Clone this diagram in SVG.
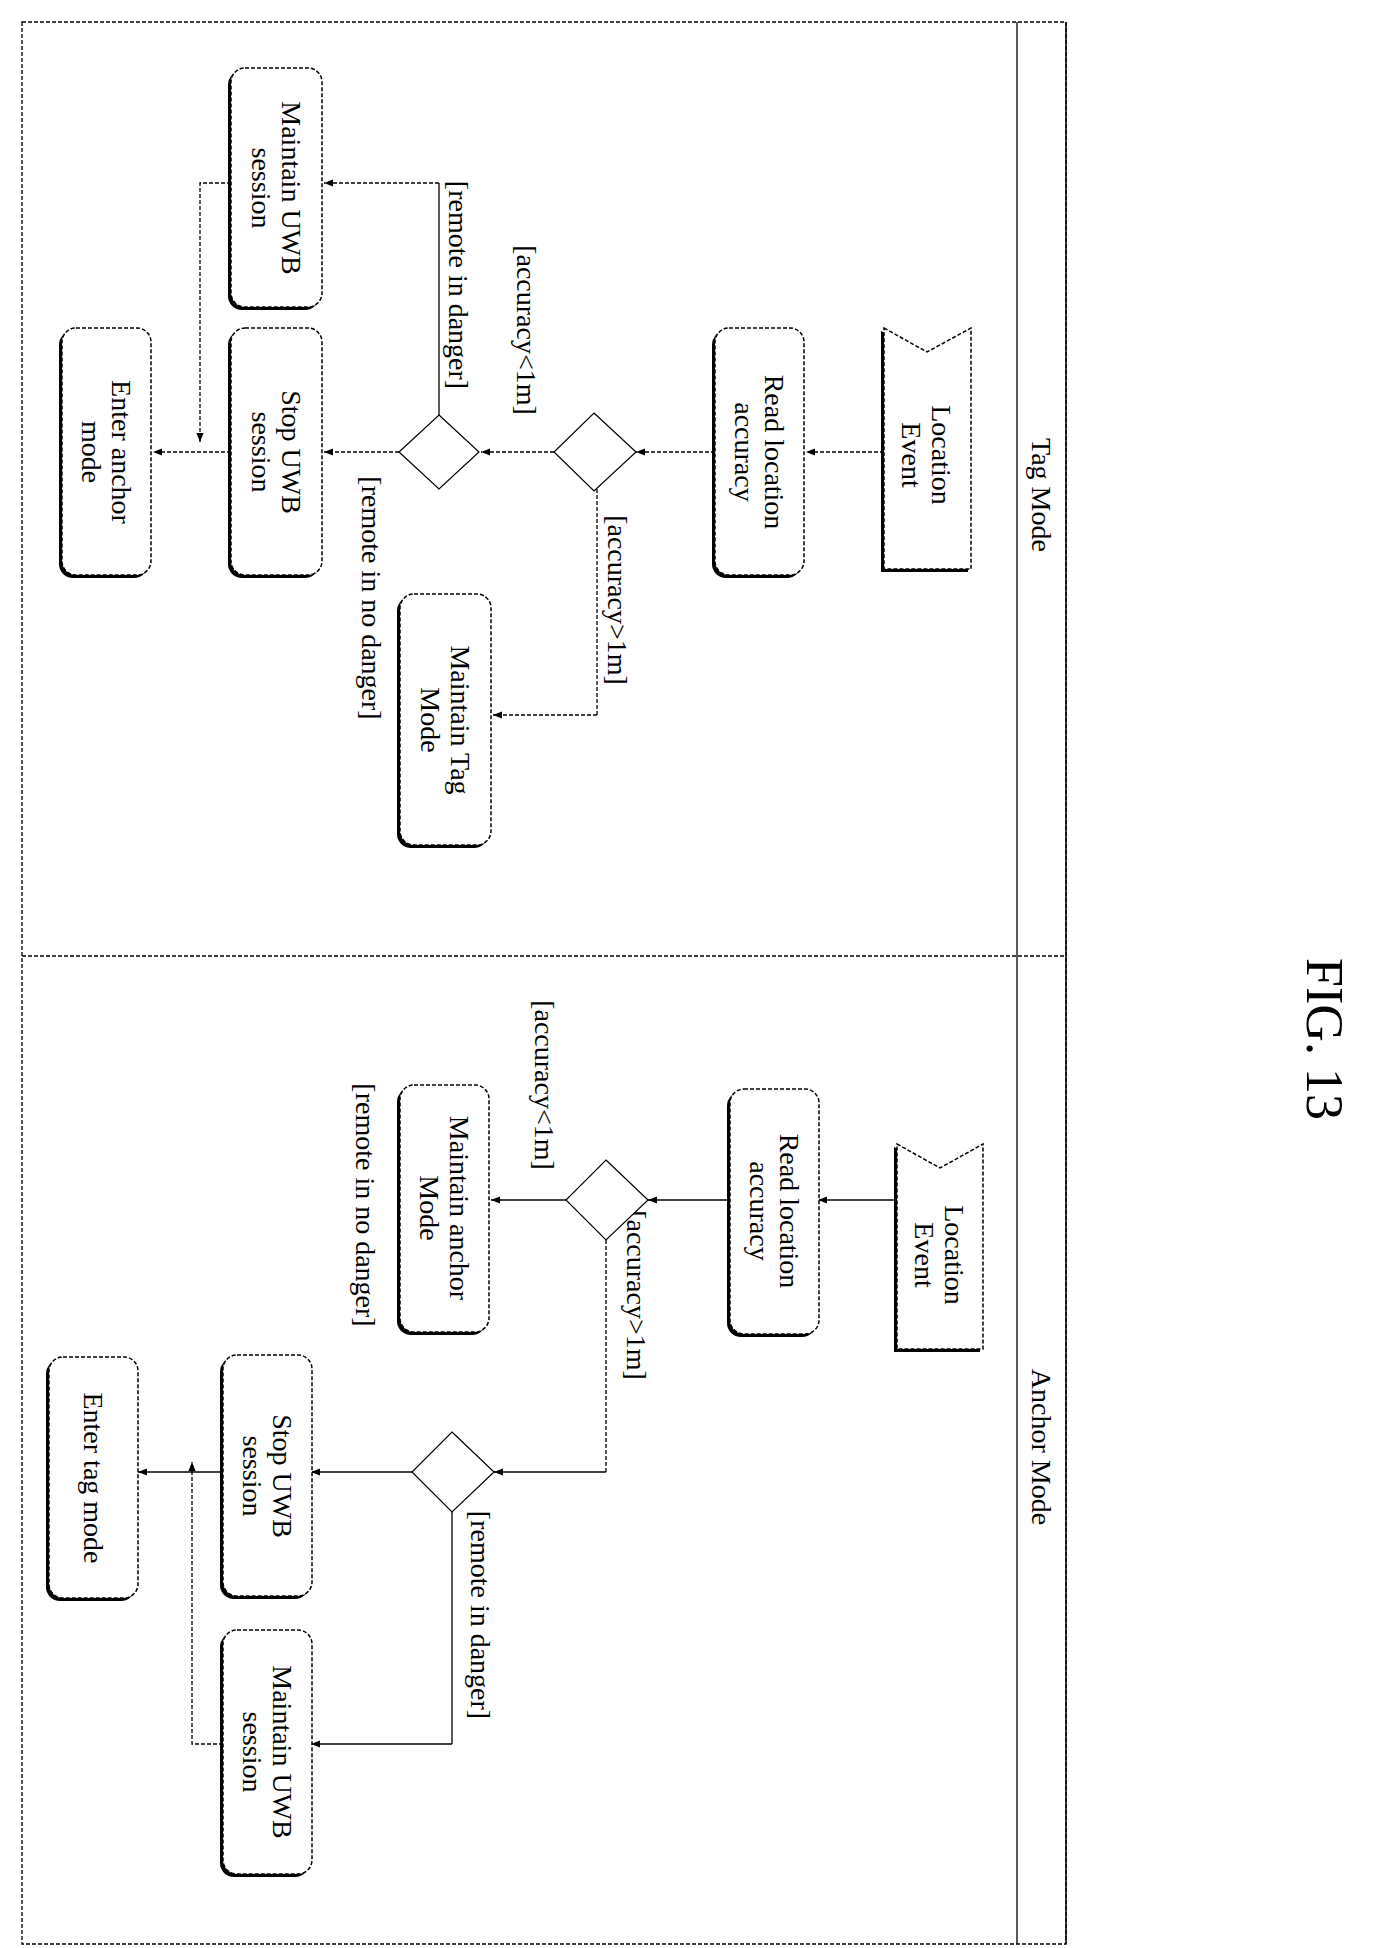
<svg xmlns="http://www.w3.org/2000/svg" width="1398" height="1948" viewBox="0 0 1398 1948">
<defs>
<marker id="ar" viewBox="0 0 10 10" refX="10" refY="5" markerWidth="9" markerHeight="9" orient="auto" markerUnits="userSpaceOnUse"><path d="M0,1 L10,5 L0,9 Z" fill="#000"/></marker>
</defs>
<style>
text{font-family:"Liberation Serif",serif;font-size:28px;fill:#000;text-anchor:middle;dominant-baseline:central}
.n{fill:#fff;stroke:#000;stroke-width:1.5;stroke-dasharray:4 2}
.sh{fill:#000}
.d{fill:#fff;stroke:#000;stroke-width:1.2}
.c{fill:none;stroke:#000;stroke-width:1.3;marker-end:url(#ar)}
.cd{fill:none;stroke:#000;stroke-width:1.3;stroke-dasharray:4 2;marker-end:url(#ar)}
.cn{fill:none;stroke:#000;stroke-width:1.3;stroke-dasharray:4 2}
.cs{fill:none;stroke:#000;stroke-width:1.3}
</style>
<rect width="1398" height="1948" fill="#fff"/>
<g id="frame">
<rect x="22" y="22" width="1044" height="1922" fill="none" stroke="#000" stroke-width="1.3" stroke-dasharray="4 2"/>
<line x1="1066" y1="22" x2="1066" y2="1944" stroke="#000" stroke-width="1.5"/>
<line x1="1017" y1="22" x2="1017" y2="1944" stroke="#000" stroke-width="1.3"/>
<line x1="22" y1="956" x2="1066" y2="956" stroke="#000" stroke-width="1.3" stroke-dasharray="4 2"/>
<text transform="translate(1041,495) rotate(90)">Tag Mode</text>
<text transform="translate(1041,1447) rotate(90)">Anchor Mode</text>
<text transform="translate(1324,1039) rotate(90)" style="font-size:52px">FIG. 13</text>
</g>
<g id="connectors">
<path class="cd" d="M884,452 H806"/>
<path class="cd" d="M715,452 H636"/>
<path class="cd" d="M554,452 H481"/>
<path class="cd" d="M399,452 H324"/>
<path class="cd" d="M231,452 H153"/>
<path class="cn" d="M597,489 V715"/><path class="cd" d="M597,715 H493"/>
<path class="cs" d="M439,415 V183"/><path class="cd" d="M439,183 H324"/>
<path class="cd" d="M231,183 H200 V442"/>
<path class="c" d="M897,1200 H818"/>
<path class="c" d="M730,1200 H648"/>
<path class="c" d="M566,1200 H491"/>
<path class="cn" d="M606,1240 V1472"/><path class="c" d="M606,1472 H494"/>
<path class="c" d="M412,1472 H311"/>
<path class="c" d="M223,1472 H138"/>
<path class="cs" d="M452,1512 V1744"/><path class="c" d="M452,1744 H311"/>
<path class="cd" d="M223,1744 H192 V1462"/>
<text transform="translate(526,330) rotate(90)">[accuracy&lt;1m]</text>
<text transform="translate(458,285) rotate(90)">[remote in danger]</text>
<text transform="translate(617,600) rotate(90)">[accuracy&gt;1m]</text>
<text transform="translate(371,598) rotate(90)">[remote in no danger]</text>
<text transform="translate(544,1085) rotate(90)">[accuracy&lt;1m]</text>
<text transform="translate(365,1205) rotate(90)">[remote in no danger]</text>
<text transform="translate(636,1295) rotate(90)">[accuracy&gt;1m]</text>
<text transform="translate(480,1615) rotate(90)">[remote in danger]</text>
</g>
<g id="t-event">
<path class="sh" d="M881,331 L927,353 L968,331 V572 H881 Z"/>
<path class="n" d="M884,328 L927,352 L971,328 V569 H884 Z"/>
<text transform="translate(927,455) rotate(90)"><tspan x="0" y="-15">Location</tspan><tspan x="0" y="15">Event</tspan></text>
</g>
<g id="t-read">
<rect class="sh" x="712" y="331" width="89" height="247" rx="14"/>
<rect class="n" x="715" y="328" width="89" height="247" rx="14"/>
<text transform="translate(760,452) rotate(90)"><tspan x="0" y="-15">Read location</tspan><tspan x="0" y="15">accuracy</tspan></text>
</g>
<g id="t-dec1"><polygon class="d" points="594,413 636,452 594,491 554,452"/></g>
<g id="t-dec2"><polygon class="d" points="439,415 479,452 439,489 399,452"/></g>
<g id="t-maintag">
<rect class="sh" x="397" y="597" width="91" height="251" rx="14"/>
<rect class="n" x="400" y="594" width="91" height="251" rx="14"/>
<text transform="translate(446,720) rotate(90)"><tspan x="0" y="-15">Maintain Tag</tspan><tspan x="0" y="15">Mode</tspan></text>
</g>
<g id="t-maintuwb">
<rect class="sh" x="228" y="71" width="91" height="239" rx="14"/>
<rect class="n" x="231" y="68" width="91" height="239" rx="14"/>
<text transform="translate(277,188) rotate(90)"><tspan x="0" y="-15">Maintain UWB</tspan><tspan x="0" y="15">session</tspan></text>
</g>
<g id="t-stop">
<rect class="sh" x="228" y="331" width="91" height="247" rx="14"/>
<rect class="n" x="231" y="328" width="91" height="247" rx="14"/>
<text transform="translate(277,452) rotate(90)"><tspan x="0" y="-15">Stop UWB</tspan><tspan x="0" y="15">session</tspan></text>
</g>
<g id="t-enter">
<rect class="sh" x="59" y="331" width="89" height="247" rx="14"/>
<rect class="n" x="62" y="328" width="89" height="247" rx="14"/>
<text transform="translate(107,452) rotate(90)"><tspan x="0" y="-15">Enter anchor</tspan><tspan x="0" y="15">mode</tspan></text>
</g>
<g id="a-event">
<path class="sh" d="M894,1147 L940,1169 L980,1147 V1352 H894 Z"/>
<path class="n" d="M897,1144 L940,1168 L983,1144 V1349 H897 Z"/>
<text transform="translate(940,1255) rotate(90)"><tspan x="0" y="-15">Location</tspan><tspan x="0" y="15">Event</tspan></text>
</g>
<g id="a-read">
<rect class="sh" x="727" y="1092" width="89" height="245" rx="14"/>
<rect class="n" x="730" y="1089" width="89" height="245" rx="14"/>
<text transform="translate(775,1211) rotate(90)"><tspan x="0" y="-15">Read location</tspan><tspan x="0" y="15">accuracy</tspan></text>
</g>
<g id="a-dec1"><polygon class="d" points="606,1160 648,1200 606,1240 566,1200"/></g>
<g id="a-dec2"><polygon class="d" points="452,1432 494,1472 452,1512 412,1472"/></g>
<g id="a-maintanchor">
<rect class="sh" x="397" y="1088" width="89" height="247" rx="14"/>
<rect class="n" x="400" y="1085" width="89" height="247" rx="14"/>
<text transform="translate(445,1208) rotate(90)"><tspan x="0" y="-15">Maintain anchor</tspan><tspan x="0" y="15">Mode</tspan></text>
</g>
<g id="a-stop">
<rect class="sh" x="220" y="1358" width="89" height="241" rx="14"/>
<rect class="n" x="223" y="1355" width="89" height="241" rx="14"/>
<text transform="translate(268,1476) rotate(90)"><tspan x="0" y="-15">Stop UWB</tspan><tspan x="0" y="15">session</tspan></text>
</g>
<g id="a-enter">
<rect class="sh" x="46" y="1360" width="89" height="241" rx="14"/>
<rect class="n" x="49" y="1357" width="89" height="241" rx="14"/>
<text transform="translate(93,1478) rotate(90)">Enter tag mode</text>
</g>
<g id="a-maintuwb">
<rect class="sh" x="220" y="1633" width="89" height="244" rx="14"/>
<rect class="n" x="223" y="1630" width="89" height="244" rx="14"/>
<text transform="translate(268,1752) rotate(90)"><tspan x="0" y="-15">Maintain UWB</tspan><tspan x="0" y="15">session</tspan></text>
</g>
</svg>
